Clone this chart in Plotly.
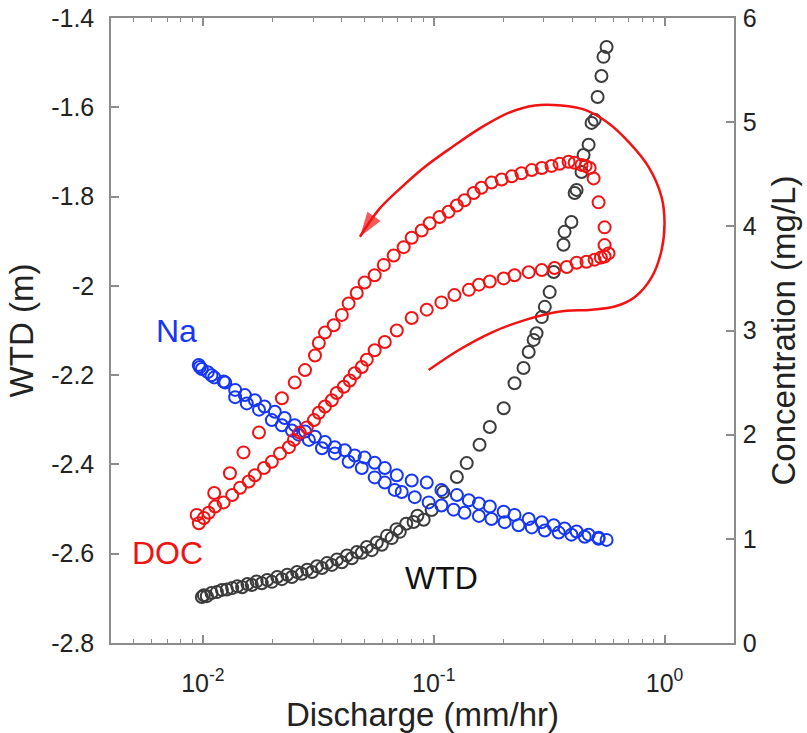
import math
import plotly.graph_objects as go

# ---------------- data ----------------
# Water table depth (left axis)
wtd_q = [0.0099, 0.0104, 0.0109, 0.0121, 0.0134, 0.0148, 0.0163, 0.0180, 0.0199, 0.0220,
         0.0243, 0.0268, 0.0297, 0.0328, 0.0362, 0.0400, 0.0442, 0.0488, 0.0539, 0.0596,
         0.0658, 0.0713, 0.0818, 0.0905, 0.0980, 0.110, 0.126, 0.139, 0.158, 0.175,
         0.201, 0.224, 0.245, 0.258, 0.271, 0.279, 0.294, 0.303, 0.318, 0.331,
         0.365, 0.369, 0.395, 0.408, 0.416, 0.437, 0.446, 0.469, 0.483, 0.498,
         0.513, 0.533, 0.544, 0.561]
wtd_m = [-2.697, -2.695, -2.688, -2.681, -2.677, -2.675, -2.670, -2.666, -2.663, -2.657,
         -2.652, -2.645, -2.641, -2.632, -2.625, -2.619, -2.610, -2.598, -2.592, -2.580,
         -2.565, -2.551, -2.529, -2.524, -2.502, -2.462, -2.428, -2.397, -2.356, -2.316,
         -2.274, -2.218, -2.184, -2.148, -2.121, -2.106, -2.070, -2.047, -2.014, -1.969,
         -1.908, -1.879, -1.857, -1.792, -1.785, -1.745, -1.707, -1.684, -1.635, -1.628,
         -1.577, -1.530, -1.487, -1.465]
# second (overlapping) limb of WTD in the dense low-flow part
wtd_q2 = [0.0101, 0.0115, 0.0127, 0.0141, 0.0156, 0.0171, 0.0190, 0.0210, 0.0232, 0.0256,
          0.0283, 0.0312, 0.0345, 0.0381, 0.0421, 0.0465, 0.0513, 0.0567, 0.0627, 0.0690,
          0.0760, 0.0850]
wtd_m2 = [-2.693, -2.686, -2.680, -2.673, -2.668, -2.662, -2.659, -2.652, -2.647, -2.641,
          -2.636, -2.628, -2.621, -2.613, -2.604, -2.596, -2.585, -2.575, -2.560, -2.545,
          -2.533, -2.515]

# DOC concentration (right axis): rising limb, peak, falling limb
doc_q = [0.00961, 0.0101, 0.0106, 0.0113, 0.0123, 0.0134, 0.0145, 0.0158, 0.0168, 0.0184,
         0.0199, 0.0216, 0.0236, 0.0248, 0.0263, 0.0282, 0.0303, 0.0318, 0.0338, 0.0362,
         0.0380, 0.0408, 0.0433, 0.0455, 0.0488, 0.0513, 0.0555, 0.0614, 0.0692, 0.0803,
         0.0933, 0.108, 0.123, 0.142, 0.157, 0.175, 0.201, 0.224, 0.258, 0.294,
         0.334, 0.377, 0.416, 0.459, 0.498, 0.530, 0.550, 0.572,
         0.550, 0.550, 0.518, 0.493, 0.474,
         0.455, 0.437, 0.408, 0.384, 0.351, 0.324, 0.294, 0.266, 0.240, 0.218, 0.197,
         0.178, 0.161, 0.149, 0.136, 0.126, 0.116, 0.106, 0.0961, 0.0887, 0.0803,
         0.0741, 0.0671, 0.0608, 0.0555, 0.0502, 0.0464, 0.0428, 0.0400, 0.0369, 0.0338,
         0.0318, 0.0306, 0.0277, 0.0250, 0.0220, 0.0175, 0.0150, 0.0131, 0.0112, 0.0094]
doc_c = [1.15, 1.20, 1.25, 1.31, 1.35, 1.42, 1.49, 1.55, 1.61, 1.68,
         1.74, 1.82, 1.88, 1.95, 2.02, 2.07, 2.14, 2.21, 2.27, 2.33,
         2.40, 2.46, 2.52, 2.59, 2.65, 2.72, 2.81, 2.89, 3.00, 3.12,
         3.20, 3.27, 3.34, 3.39, 3.44, 3.47, 3.50, 3.53, 3.56, 3.58,
         3.60, 3.61, 3.65, 3.66, 3.68, 3.70, 3.71, 3.74,
         3.82, 3.99, 4.23, 4.46, 4.56,
         4.58, 4.59, 4.61, 4.62, 4.60, 4.58, 4.56, 4.54, 4.51, 4.48, 4.45,
         4.42, 4.37, 4.32, 4.25, 4.20, 4.14, 4.09, 4.03, 3.96, 3.89,
         3.80, 3.72, 3.63, 3.53, 3.46, 3.36, 3.26, 3.15, 3.05, 2.98,
         2.88, 2.76, 2.62, 2.50, 2.35, 2.02, 1.83, 1.63, 1.44, 1.23]

# Na concentration (right axis): two limbs
na_q = [0.0096, 0.0099, 0.0105, 0.0112, 0.0125, 0.0138, 0.0152, 0.0168, 0.0185, 0.0205,
        0.0226, 0.0250, 0.0277, 0.0306, 0.0338, 0.0373, 0.0412, 0.0455, 0.0502, 0.0555,
        0.0614, 0.0692, 0.0803, 0.0933, 0.108, 0.126, 0.142, 0.157, 0.175, 0.201,
        0.224, 0.258, 0.294, 0.331, 0.369, 0.416, 0.469, 0.518, 0.561,
        0.0097, 0.0109, 0.0123, 0.0138, 0.0155, 0.0175, 0.0199, 0.0220, 0.0243, 0.0260,
        0.0288, 0.0328, 0.0373, 0.0428, 0.0488, 0.0555, 0.0614, 0.0678, 0.0727, 0.0828,
        0.0951, 0.108, 0.122, 0.136, 0.157, 0.178, 0.203, 0.233, 0.266, 0.303,
        0.348, 0.395, 0.451, 0.518]
na_c = [2.67, 2.63, 2.60, 2.55, 2.50, 2.43, 2.38, 2.33, 2.27, 2.22,
        2.16, 2.09, 2.03, 1.98, 1.93, 1.88, 1.85, 1.80, 1.78, 1.73,
        1.68, 1.61, 1.56, 1.54, 1.47, 1.42, 1.37, 1.34, 1.31, 1.26,
        1.23, 1.19, 1.16, 1.13, 1.10, 1.07, 1.04, 1.01, 0.99,
        2.65, 2.57, 2.51, 2.36, 2.30, 2.24, 2.14, 2.09, 2.04, 2.00,
        1.95, 1.87, 1.82, 1.74, 1.68, 1.59, 1.54, 1.47, 1.45, 1.40,
        1.35, 1.32, 1.28, 1.25, 1.22, 1.19, 1.16, 1.13, 1.11, 1.08,
        1.06, 1.04, 1.02, 1.00]

# hysteresis direction arrow (right axis)
arrow_q = [0.0951, 0.128, 0.178, 0.248, 0.348, 0.483, 0.608, 0.742, 0.879, 0.971,
           1.00, 0.971, 0.853, 0.699, 0.572, 0.450, 0.358, 0.274, 0.211, 0.161,
           0.120, 0.0914, 0.0705, 0.0578, 0.0479]
arrow_c = [2.62, 2.81, 2.98, 3.10, 3.18, 3.20, 3.23, 3.32, 3.51, 3.77,
           4.03, 4.28, 4.57, 4.81, 4.99, 5.12, 5.16, 5.16, 5.09, 4.95,
           4.76, 4.57, 4.35, 4.16, 3.90]

x_tickvals = [0.01, 0.1, 1]
x_ticktext = ["10<sup>-2</sup>", "10<sup>-1</sup>", "10<sup>0</sup>"]
x_minor = [0.004, 0.005, 0.006, 0.007, 0.008, 0.009,
           0.02, 0.03, 0.04, 0.05, 0.06, 0.07, 0.08, 0.09,
           0.2, 0.3, 0.4, 0.5, 0.6, 0.7, 0.8, 0.9, 2]
wtd_ticks = [-2.8, -2.6, -2.4, -2.2, -2.0, -1.8, -1.6, -1.4]
wtd_ticktext = ["-2.8", "-2.6", "-2.4", "-2.2", "-2", "-1.8", "-1.6", "-1.4"]
conc_ticks = [0, 1, 2, 3, 4, 5, 6]

# ---------------- figure ----------------
RED = "#f21212"
BLUE = "#1636f5"
DARK = "#3c3c3c"
AXC = "#8c8c8c"
TXT = "#222222"
FONT = "Liberation Sans, Arial, Helvetica, sans-serif"

fig = go.Figure()

def mk(c):
    return dict(symbol="circle-open", size=12, color=c, line=dict(width=2, color=c))

fig.add_trace(go.Scatter(x=wtd_q + wtd_q2, y=wtd_m + wtd_m2, mode="markers",
                         marker=mk(DARK), name="WTD", yaxis="y"))
fig.add_trace(go.Scatter(x=na_q, y=na_c, mode="markers", marker=mk(BLUE),
                         name="Na", yaxis="y2"))
fig.add_trace(go.Scatter(x=doc_q, y=doc_c, mode="markers", marker=mk(RED),
                         name="DOC", yaxis="y2"))

sizes = [0] * (len(arrow_q) - 1) + [26]
fig.add_trace(go.Scatter(x=arrow_q, y=arrow_c, mode="lines+markers", yaxis="y2",
                         line=dict(color=RED, width=2.5, shape="spline", smoothing=1.0),
                         marker=dict(symbol="arrow", size=sizes, color=RED,
                                     angleref="previous", line=dict(width=0)),
                         name="direction"))

fig.update_layout(
    template="none",
    width=807, height=733,
    margin=dict(l=111, r=73, t=18, b=90),
    paper_bgcolor="white", plot_bgcolor="white",
    showlegend=False,
    font=dict(family=FONT, size=25, color=TXT),
    xaxis=dict(type="log", range=[-2.398, 0.301], automargin=False,
               tickvals=x_tickvals, ticktext=x_ticktext,
               ticks="inside", ticklen=8, tickwidth=1.5, tickcolor=AXC,
               minor=dict(tickvals=x_minor, ticks="inside", ticklen=4,
                          tickwidth=1.2, tickcolor=AXC),
               showline=True, linecolor=AXC, linewidth=1.5, mirror="ticks",
               showgrid=False, zeroline=False,
               ticklabelstandoff=17,
               title=dict(text="Discharge (mm/hr)", font=dict(size=33, color=TXT),
                          standoff=10)),
    yaxis=dict(range=[-2.8, -1.4], tickvals=wtd_ticks, ticktext=wtd_ticktext,
               automargin=False,
               ticks="inside", ticklen=8, tickwidth=1.5, tickcolor=AXC,
               showline=True, linecolor=AXC, linewidth=1.5,
               showgrid=False, zeroline=False,
               ticklabelstandoff=10,
               title=dict(text="WTD (m)", font=dict(size=33, color=TXT), standoff=8)),
    yaxis2=dict(range=[0, 6], tickvals=conc_ticks, overlaying="y", side="right",
                automargin=False,
                ticks="inside", ticklen=8, tickwidth=1.5, tickcolor=AXC,
                showline=True, linecolor=AXC, linewidth=1.5,
                showgrid=False, zeroline=False,
                ticklabelstandoff=2,
                title=dict(text="Concentration (mg/L)", font=dict(size=33, color=TXT),
                           standoff=16)),
)

ann = [("Na", 0.0077, 3.0, BLUE), ("DOC", 0.0070, 0.86, RED), ("WTD", 0.108, 0.62, "#111111")]
for txt, xq, yc, col in ann:
    fig.add_annotation(text=txt, x=math.log10(xq), y=yc, xref="x", yref="y2",
                       showarrow=False, font=dict(size=32, color=col, family=FONT))

fig.write_html("out.html")
